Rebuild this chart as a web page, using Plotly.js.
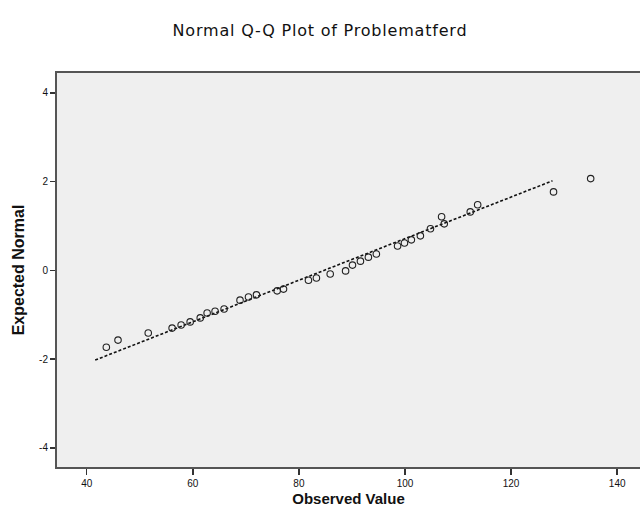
<!DOCTYPE html>
<html>
<head>
<meta charset="utf-8">
<script src="https://cdn.plot.ly/plotly-3.0.1.min.js"></script>
<style>html,body{margin:0;padding:0;background:#fff;}#chart{width:640px;height:519px;}
.gtitle{letter-spacing:0.8px;}</style>
</head>
<body>
<div id="chart"></div>
<script>
const observedValues = [43.7, 45.9, 51.6, 56.1, 57.8, 59.5, 61.4, 62.7, 64.2, 65.9,
  68.9, 70.5, 72.0, 75.9, 77.1, 81.8, 83.3, 85.9, 88.8, 90.1,
  91.6, 93.1, 94.6, 98.6, 99.9, 101.2, 102.9, 104.8, 106.9, 107.4,
  112.3, 113.7, 128.0, 135.0];
const expectedNormal = [-1.73, -1.57, -1.41, -1.30, -1.23, -1.16, -1.07, -0.96, -0.92, -0.87,
  -0.67, -0.60, -0.55, -0.46, -0.42, -0.22, -0.17, -0.08, -0.01, 0.12,
  0.21, 0.30, 0.37, 0.55, 0.62, 0.69, 0.78, 0.94, 1.21, 1.05,
  1.32, 1.48, 1.77, 2.07];
// Reference line end points
const lineX = [41.6, 127.8];
const lineY = [-2.02, 2.02];
const xTicks = [40, 60, 80, 100, 120, 140];
const yTicks = [-4, -2, 0, 2, 4];

const traces = [
  {
    x: lineX, y: lineY, mode: 'lines', type: 'scatter',
    line: {color: '#111', width: 1.6, dash: '3px,2px'},
    hoverinfo: 'skip', showlegend: false
  },
  {
    x: observedValues, y: expectedNormal, mode: 'markers', type: 'scatter',
    marker: {symbol: 'circle-open', size: 6.5, color: '#222', line: {width: 1.1, color: '#222'}},
    showlegend: false
  }
];

const layout = {
  width: 640, height: 519,
  margin: {l: 57, r: 0, t: 73, b: 52},
  paper_bgcolor: '#ffffff',
  plot_bgcolor: '#efefef',
  title: {
    text: 'Normal Q-Q Plot of Problematferd',
    x: 0.5, xanchor: 'center', y: 0.942, yanchor: 'middle',
    font: {family: 'DejaVu Sans', size: 16, color: '#111'}
  },
  xaxis: {
    range: [34.4, 144.3],
    tickvals: xTicks, ticktext: xTicks.map(String),
    ticks: 'outside', ticklen: 6, tickwidth: 1.5, tickcolor: '#333',
    showline: true, linecolor: '#555', linewidth: 2, mirror: true,
    showgrid: false, zeroline: false,
    tickfont: {family: 'Liberation Sans', size: 10, color: '#111'},
    title: {text: '<b>Observed Value</b>', standoff: 5,
      font: {family: 'Liberation Sans', size: 15, color: '#111'}}
  },
  yaxis: {
    range: [-4.43, 4.45],
    tickvals: yTicks, ticktext: yTicks.map(String),
    ticks: 'outside', ticklen: 5, tickwidth: 1.5, tickcolor: '#333',
    showline: true, linecolor: '#555', linewidth: 2,
    showgrid: false, zeroline: false,
    tickfont: {family: 'Liberation Sans', size: 10, color: '#111'},
    title: {text: '<b>Expected Normal</b>', standoff: 10,
      font: {family: 'Liberation Sans', size: 16, color: '#111'}}
  }
};

Plotly.newPlot('chart', traces, layout, {displayModeBar: false, staticPlot: true});
</script>
</body>
</html>
